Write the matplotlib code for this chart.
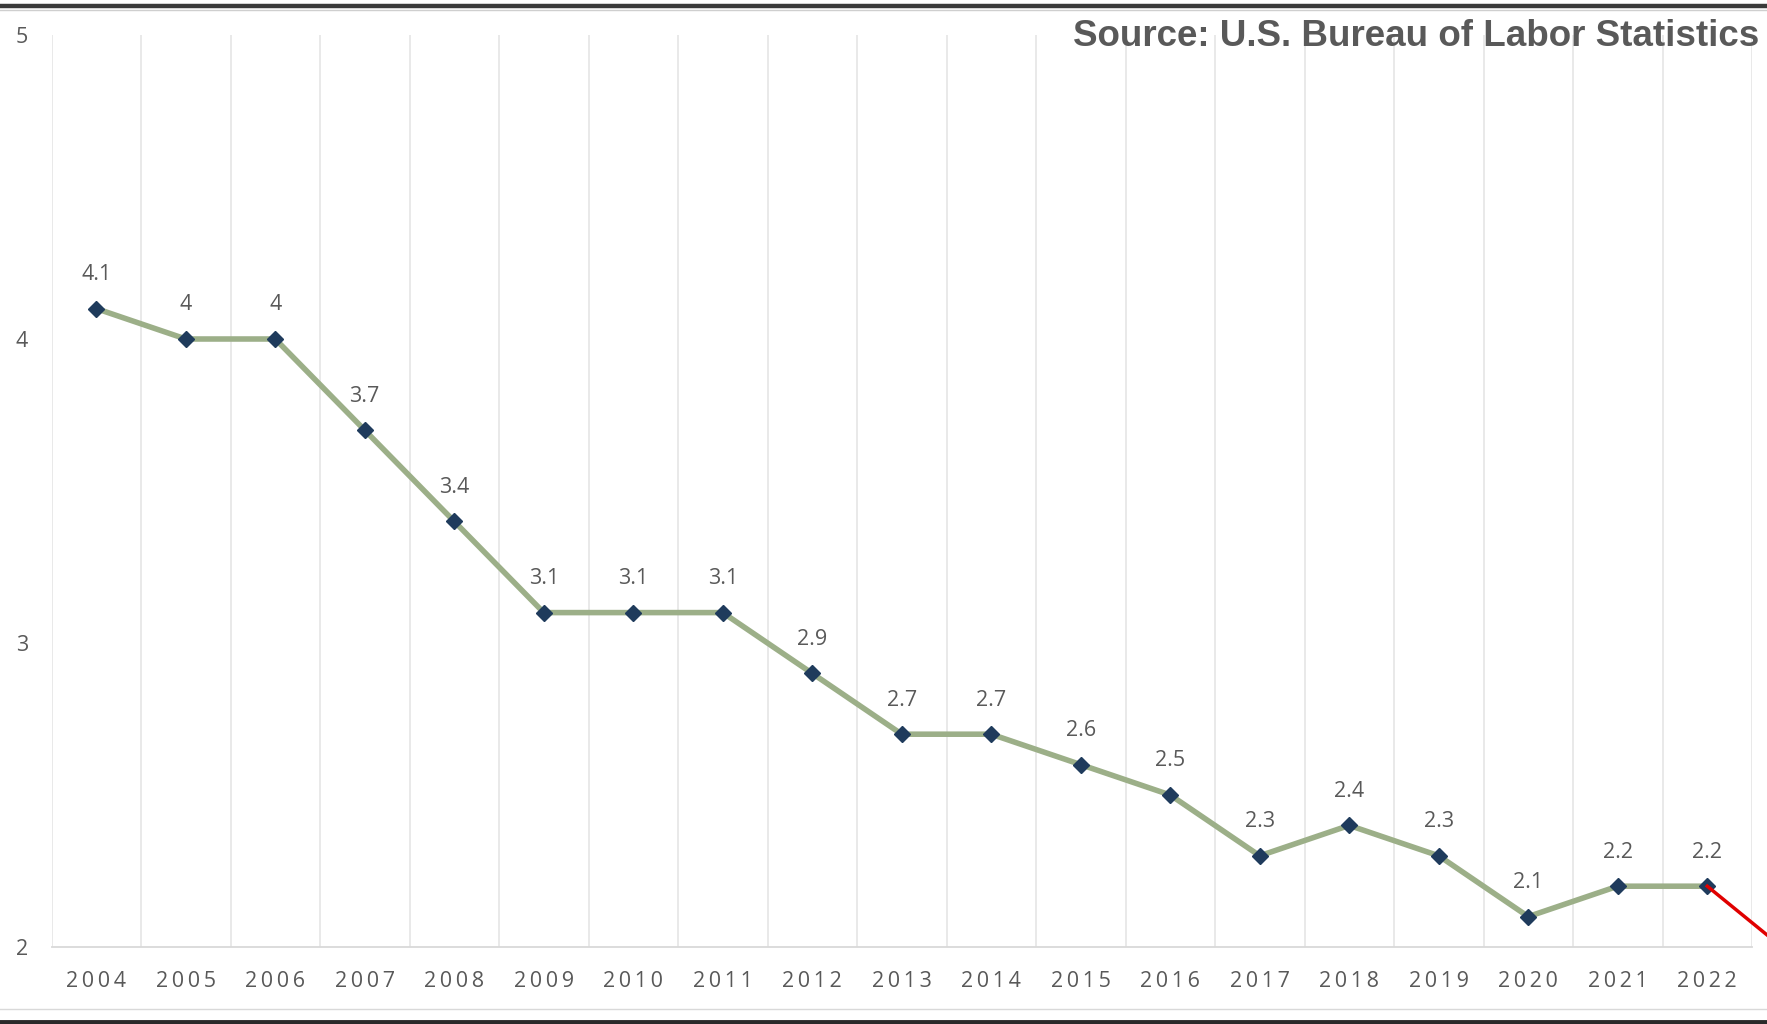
import matplotlib.pyplot as plt
from matplotlib.lines import Line2D

years = [2004, 2005, 2006, 2007, 2008, 2009, 2010, 2011, 2012, 2013,
         2014, 2015, 2016, 2017, 2018, 2019, 2020, 2021, 2022]
values = [4.1, 4, 4, 3.7, 3.4, 3.1, 3.1, 3.1, 2.9, 2.7,
          2.7, 2.6, 2.5, 2.3, 2.4, 2.3, 2.1, 2.2, 2.2]
y_ticks = [2, 3, 4, 5]

LINE = '#9caf88'
MARK = '#1f3b5c'
TXT = '#595959'

W, H = 1767, 1024
fig = plt.figure(figsize=(W / 100, H / 100), dpi=100)
ax = fig.add_axes([51.5 / W, 1 - 947 / H, (1752 - 51.5) / W, (947 - 35) / H])

x = list(range(len(years)))
ax.plot(x, values, color=LINE, lw=4.0, marker='D', markersize=8.5,
        markerfacecolor=MARK, markeredgecolor=MARK, zorder=3)

for xi, v in zip(x, values):
    label = '{:g}'.format(v)
    ax.annotate(label, (xi, v), xytext=(0, 17), textcoords='offset points',
                ha='center', va='bottom', fontsize=15.5, color=TXT,
                family='Open Sans')

ax.set_xlim(-0.5, len(years) - 0.5)
ax.set_ylim(2, 5)
ax.set_xticks(x)
ax.set_xticklabels(['\u2009'.join(str(y)) for y in years],
                   fontsize=15.5, color=TXT, family='Open Sans')
ax.set_yticks(y_ticks)
ax.set_yticklabels([str(t) for t in y_ticks], fontsize=15.5, color=TXT,
                   family='Open Sans')
ax.tick_params(axis='both', length=0)
ax.tick_params(axis='x', pad=17)
ax.tick_params(axis='y', pad=17)

# gridlines sit between the categories
ax.set_xticks([i - 0.5 for i in range(len(years) + 1)], minor=True)
ax.tick_params(axis='x', which='minor', length=0)
ax.grid(axis='x', which='minor', color='#e3e3e3', lw=1.1)
ax.grid(axis='x', which='major', visible=False)

for s in ['top', 'right', 'left']:
    ax.spines[s].set_visible(False)
ax.spines['bottom'].set_color('#d9d9d9')
ax.spines['bottom'].set_linewidth(1.3)

# red pointer leaving the last point
ax.plot([x[-1], x[-1] + 1.0], [values[-1], values[-1] - 0.24],
        color='#e00000', lw=2.5, clip_on=False, zorder=4)

fig.text(1759 / W, 1 - 37 / H, 'Source: U.S. Bureau of Labor Statistics',
         ha='right', va='center', fontsize=26.5, fontweight='bold',
         color=TXT, family='Liberation Sans')

# frame bars top and bottom
fig.add_artist(Line2D([0, 1], [1 - 5.5 / H] * 2, color='#3a3a3a', lw=3.2))
fig.add_artist(Line2D([0, 1], [1 - 9.5 / H] * 2, color='#cfcfcf', lw=1))
fig.add_artist(Line2D([0, 1], [1 - 1009 / H] * 2, color='#d9d9d9', lw=1))
fig.add_artist(Line2D([0, 1], [1 - 1022 / H] * 2, color='#2a2a2a', lw=3.5))

fig.savefig('out.png', dpi=100)
